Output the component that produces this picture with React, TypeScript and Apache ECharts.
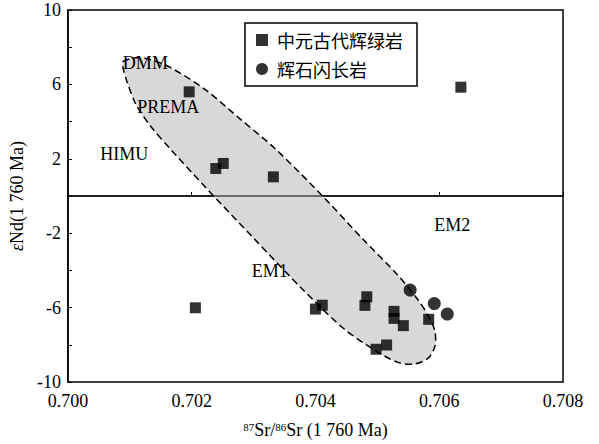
import React, { useEffect, useRef } from "react";
import * as echarts from "echarts";

// Axis settings
const xMin = 0.7;
const xMax = 0.708;
const xStep = 0.002;
const yMin = -10;
const yMax = 10;
const yStep = 2;

// Series names
const diabaseName = "中元古代辉绿岩";
const dioriteName = "辉石闪长岩";

// Mesoproterozoic diabase: 87Sr/86Sr and εNd(1760 Ma)
const diabaseSr = [0.70196, 0.70635, 0.70239, 0.70251, 0.70332, 0.70206, 0.704, 0.70411, 0.70483, 0.7048, 0.70527, 0.70527, 0.70542, 0.70583, 0.70498, 0.70515];
const diabaseNd = [5.6, 5.85, 1.48, 1.75, 1.03, -6.01, -6.08, -5.87, -5.42, -5.88, -6.2, -6.58, -6.97, -6.63, -8.24, -8.01];

// Pyroxene diorite
const dioriteSr = [0.70553, 0.70592, 0.70613];
const dioriteNd = [-5.06, -5.78, -6.35];

// Mantle array envelope outline (dashed, shaded)
const envelopeSr = [0.70089, 0.7011, 0.70134, 0.70166, 0.70222, 0.70279, 0.70336, 0.70416, 0.70476, 0.70532, 0.70564, 0.70583, 0.70593, 0.70593, 0.70582, 0.70559, 0.70532, 0.70496, 0.70445, 0.70381, 0.70301, 0.70222, 0.70166, 0.70134, 0.7011, 0.70096, 0.70089];
const envelopeNd = [7.22, 7.43, 7.33, 6.9, 5.72, 4.12, 2.51, -0.16, -2.3, -4.22, -5.51, -6.47, -7.27, -8.07, -8.72, -9.04, -8.93, -8.29, -7.11, -5.08, -2.3, 0.48, 2.51, 3.74, 4.92, 6.1, 6.9];

// Mantle end-member labels
const regionNames = ["DMM", "PREMA", "HIMU", "EM2", "EM1"];
const regionSr = [0.70126, 0.70163, 0.70092, 0.70622, 0.70327];
const regionNd = [7.11, 4.76, 2.25, -1.6, -4.06];

// Reference line εNd = 0
const zeroLineSr = [xMin, xMax];
const zeroLineNd = [0, 0];

const serif = "'Liberation Serif', 'Times New Roman', serif";
const cjk = "'Noto Sans CJK SC', sans-serif";

export default function App() {
  const ref = useRef<HTMLDivElement>(null);

  useEffect(() => {
    if (!ref.current) return;
    const chart = echarts.init(ref.current, undefined, { renderer: "svg" });

    const envelopePts = envelopeSr.map((s, i) => [s, envelopeNd[i]]);

    const option: any = {
      animation: false,
      backgroundColor: "#fff",
      grid: {
        left: 61,
        right: 36,
        top: 10,
        bottom: 60,
        show: true,
        borderColor: "#000",
        borderWidth: 1.5,
        backgroundColor: "transparent",
      },
      legend: {
        data: [diabaseName, dioriteName],
        orient: "vertical",
        left: 245,
        top: 23,
        padding: [8, 14, 8, 11],
        itemGap: 11,
        itemWidth: 12,
        itemHeight: 12,
        borderColor: "#000",
        borderWidth: 1.5,
        backgroundColor: "#fff",
        textStyle: {
          fontFamily: cjk,
          fontSize: 18,
          color: "#000",
          padding: [0, 0, 0, 4],
        },
      },
      xAxis: {
        type: "value",
        min: xMin,
        max: xMax,
        interval: xStep,
        name: "{s|87}Sr/{s|86}Sr (1 760 Ma)",
        nameLocation: "middle",
        nameGap: 39,
        nameTextStyle: {
          fontFamily: serif,
          fontSize: 18,
          color: "#000",
          rich: {
            s: { fontFamily: serif, fontSize: 11, color: "#000", padding: [0, 0, 7, 0] },
          },
        },
        axisLine: { lineStyle: { color: "#000", width: 1.5 } },
        axisTick: { inside: true, length: 4, lineStyle: { color: "#000" } },
        axisLabel: {
          fontFamily: serif,
          fontSize: 18,
          color: "#000",
          margin: 10,
          formatter: (v: number) => v.toFixed(3),
        },
        splitLine: { show: false },
      },
      yAxis: {
        type: "value",
        min: yMin,
        max: yMax,
        interval: yStep,
        name: "{e|ε}Nd(1 760 Ma)",
        nameLocation: "middle",
        nameGap: 34,
        nameTextStyle: {
          fontFamily: serif,
          fontSize: 18,
          color: "#000",
          rich: {
            e: { fontFamily: serif, fontSize: 18, fontStyle: "italic", color: "#000" },
          },
        },
        axisLine: { lineStyle: { color: "#000", width: 1.5 } },
        axisTick: { inside: true, length: 4, lineStyle: { color: "#000" } },
        axisLabel: {
          fontFamily: serif,
          fontSize: 18,
          color: "#000",
          margin: 7,
          formatter: (v: number) => (Math.round(v - yMin) % 4 === 0 ? String(Math.round(v)) : ""),
        },
        splitLine: { show: false },
      },
      series: [
        {
          name: "envelope",
          type: "custom",
          coordinateSystem: "cartesian2d",
          data: [[envelopeSr[0], envelopeNd[0]]],
          silent: true,
          z: 1,
          clip: false,
          renderItem: (params: any, api: any) => {
            const points = envelopePts.map((p) => api.coord(p));
            return {
              type: "polygon",
              shape: { points, smooth: 0.3 },
              style: {
                fill: "#d8d8d8",
                stroke: "#000",
                lineWidth: 1.5,
                lineDash: [7, 4],
              },
            };
          },
        },
        {
          name: "zero",
          type: "line",
          data: zeroLineSr.map((s, i) => [s, zeroLineNd[i]]),
          symbol: "none",
          lineStyle: { color: "#000", width: 1 },
          z: 2,
          silent: true,
        },
        {
          name: "labels",
          type: "scatter",
          symbolSize: 1,
          itemStyle: { color: "rgba(0,0,0,0)" },
          data: regionNames.map((n, i) => ({ name: n, value: [regionSr[i], regionNd[i]] })),
          label: {
            show: true,
            position: [0, 0],
            align: "center",
            verticalAlign: "middle",
            formatter: (p: any) => p.name,
            fontFamily: serif,
            fontSize: 18,
            color: "#000",
            opacity: 1,
            textBorderWidth: 0,
          },
          z: 3,
          silent: true,
        },
        {
          name: diabaseName,
          type: "scatter",
          symbol: "rect",
          symbolSize: 11,
          itemStyle: { color: "#000" },
          data: diabaseSr.map((s, i) => [s, diabaseNd[i]]),
          z: 5,
        },
        {
          name: dioriteName,
          type: "scatter",
          symbol: "circle",
          symbolSize: 13,
          itemStyle: { color: "#000" },
          data: dioriteSr.map((s, i) => [s, dioriteNd[i]]),
          z: 5,
        },
      ],
    };

    chart.setOption(option);
    return () => chart.dispose();
  }, []);

  return (
    <div
      ref={ref}
      style={{ position: "fixed", left: 0, top: 0, width: 599, height: 444, background: "#fff" }}
    />
  );
}
